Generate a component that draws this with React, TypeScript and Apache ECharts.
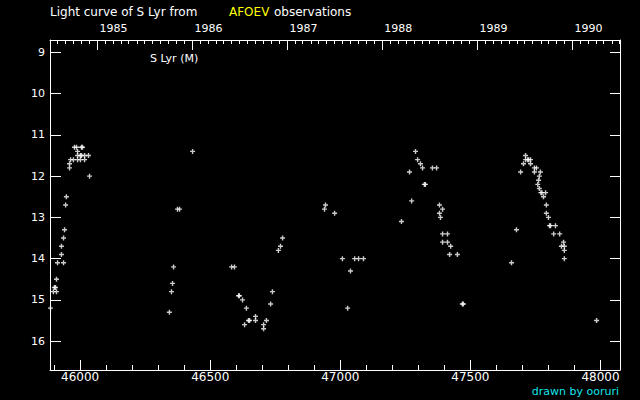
import React, { useEffect, useRef } from "react";
import * as echarts from "echarts";

// Julian Date - 2400000 of each visual observation, and the magnitude
const OBS_JD = [
  45886, 45897, 45909, 45901, 45905, 45909, 45913, 45936, 45928, 45928, 45936, 45940, 45944, 45947,
  45959, 45959, 45963, 45974, 45990, 46001, 46017, 45990, 46001, 46005, 46017, 46032, 45990, 45978,
  45986, 46005, 46009, 46036,
  46343, 46351, 46355, 46359, 46374, 46382, 46432,
  46582, 46593, 46609, 46612, 46624, 46632, 46639, 46647, 46651, 46674, 46674, 46705, 46705, 46716,
  46732, 46739, 46762, 46770, 46778,
  46939, 46943, 46978, 47008, 47028, 47039, 47055, 47070, 47089,
  47235, 47266, 47274, 47289, 47297, 47308, 47316, 47323, 47327, 47354, 47370, 47381, 47393, 47381,
  47385, 47393, 47412, 47393, 47412, 47424, 47420, 47450, 47469, 47473,
  47658, 47677, 47693, 47704, 47712, 47712, 47720, 47724, 47731, 47731, 47746, 47754, 47746, 47769,
  47765, 47762, 47759, 47765, 47771, 47775, 47789, 47781, 47792, 47792, 47800, 47804, 47808, 47827,
  47820, 47843, 47858, 47850, 47861, 47861, 47861, 47985,
];
const OBS_MAG = [
  15.2, 14.8, 14.8, 14.7, 14.7, 14.5, 14.1, 14.1, 13.9, 13.7, 13.5, 13.3, 12.7, 12.5,
  11.8, 11.7, 11.6, 11.6, 11.6, 11.6, 11.6, 11.5, 11.5, 11.5, 11.5, 11.5, 11.4, 11.3,
  11.3, 11.3, 11.3, 12.0,
  15.3, 14.8, 14.6, 14.2, 12.8, 12.8, 11.4,
  14.2, 14.2, 14.9, 14.9, 15.0, 15.6, 15.2, 15.5, 15.5, 15.4, 15.5, 15.6, 15.7, 15.5,
  15.1, 14.8, 13.8, 13.7, 13.5,
  12.8, 12.7, 12.9, 14.0, 15.2, 14.3, 14.0, 14.0, 14.0,
  13.1, 11.9, 12.6, 11.4, 11.6, 11.7, 11.8, 12.2, 12.2, 11.8, 11.8, 12.7, 12.8, 12.9,
  13.0, 13.4, 13.4, 13.6, 13.6, 13.7, 13.9, 13.9, 15.1, 15.1,
  14.1, 13.3, 11.9, 11.7, 11.5, 11.6, 11.6, 11.6, 11.6, 11.7, 11.8, 11.8, 11.9, 11.9,
  12.0, 12.1, 12.2, 12.3, 12.4, 12.4, 12.4, 12.5, 12.7, 12.9, 13.0, 13.2, 13.2, 13.2,
  13.4, 13.4, 13.6, 13.7, 13.7, 13.8, 14.0, 15.5,
];

const JD_LABEL_TICKS = [46000, 46500, 47000, 47500, 48000];
const MAG_TICKS = [9, 10, 11, 12, 13, 14, 15, 16];
const YEARS = [1985, 1986, 1987, 1988, 1989, 1990];

const X_MIN = 45884;
const X_MAX = 48075;
const Y_MIN = 8.7;
const Y_MAX = 16.7;

const jdOf = (y: number, m: number) => Date.UTC(y, m, 1) / 86400000 + 40587.5;

const minorJD: number[] = [];
for (let v = 45900; v <= 48000; v += 100) minorJD.push(v);
const yearJD = YEARS.map((y) => jdOf(y, 0));
const monthJD: number[] = [];
for (let y = 1984; y <= 1990; y++) {
  for (let m = 0; m < 12; m++) {
    const j = jdOf(y, m);
    if (j > X_MIN && j < X_MAX) monthJD.push(j);
  }
}

const FONT = "DejaVu Sans";
const WHITE = "#ffffff";

export default function App() {
  const ref = useRef<HTMLDivElement>(null);
  useEffect(() => {
    if (!ref.current) return;
    const chart = echarts.init(ref.current, null, { renderer: "svg" });
    const line = { show: true, onZero: false, lineStyle: { color: WHITE, width: 1 } };
    const baseX = { type: "value", min: X_MIN, max: X_MAX, gridIndex: 0, splitLine: { show: false } };
    const baseY = { type: "value", min: Y_MIN, max: Y_MAX, inverse: true, splitLine: { show: false } };
    chart.setOption({
      animation: false,
      backgroundColor: "#000000",
      grid: { left: 50, top: 40, width: 570, height: 330, containLabel: false },
      xAxis: [
        {
          ...baseX,
          position: "bottom",
          axisLine: line,
          axisTick: { show: true, inside: true, length: 10, customValues: JD_LABEL_TICKS, lineStyle: { color: WHITE } },
          axisLabel: {
            show: true,
            customValues: JD_LABEL_TICKS,
            color: WHITE,
            fontFamily: FONT,
            fontSize: 12,
            margin: 1,
            formatter: (v: number) => String(Math.round(v)),
          },
        },
        {
          ...baseX,
          position: "bottom",
          axisLine: { show: false },
          axisTick: { show: true, inside: true, length: 5, customValues: minorJD, lineStyle: { color: WHITE } },
          axisLabel: { show: false },
        },
        {
          ...baseX,
          position: "top",
          axisLine: line,
          axisTick: { show: true, inside: true, length: 10, customValues: yearJD, lineStyle: { color: WHITE } },
          axisLabel: {
            show: true,
            customValues: yearJD,
            align: "left",
            color: WHITE,
            fontFamily: FONT,
            fontSize: 11,
            margin: 6,
            padding: [0, 0, 0, 2],
            formatter: (v: number) => {
              const i = yearJD.findIndex((j) => Math.abs(j - v) < 0.6);
              return i >= 0 ? String(YEARS[i]) : "";
            },
          },
        },
        {
          ...baseX,
          position: "top",
          axisLine: { show: false },
          axisTick: { show: true, inside: true, length: 4, customValues: monthJD, lineStyle: { color: WHITE } },
          axisLabel: { show: false },
        },
      ],
      yAxis: [
        {
          ...baseY,
          position: "left",
          axisLine: line,
          axisTick: { show: true, inside: true, length: 11, customValues: MAG_TICKS, lineStyle: { color: WHITE } },
          axisLabel: {
            show: true,
            customValues: MAG_TICKS,
            color: WHITE,
            fontFamily: FONT,
            fontSize: 11,
            margin: 5,
          },
        },
        {
          ...baseY,
          position: "right",
          axisLine: line,
          axisTick: { show: true, inside: true, length: 10, customValues: MAG_TICKS, lineStyle: { color: WHITE } },
          axisLabel: { show: false },
        },
      ],
      graphic: [
        {
          type: "text",
          left: 50,
          top: 6,
          style: { text: "Light curve of S Lyr from", fill: WHITE, font: `12px "${FONT}"` },
        },
        {
          type: "text",
          left: 229,
          top: 6,
          style: { text: "AFOEV", fill: "#ffff00", font: `12px "${FONT}"` },
        },
        {
          type: "text",
          left: 274,
          top: 6,
          style: { text: "observations", fill: WHITE, font: `12px "${FONT}"` },
        },
        {
          type: "text",
          left: 150,
          top: 53,
          style: { text: "S Lyr (M)", fill: WHITE, font: `11px "${FONT}"` },
        },
        {
          type: "text",
          right: 21,
          top: 386,
          style: { text: "drawn by ooruri", fill: "#10e4ec", font: `11px "${FONT}"` },
        },
      ],
      series: [
        {
          type: "scatter",
          xAxisIndex: 0,
          yAxisIndex: 0,
          symbol: "path://M1.8,0h1.4v1.8h1.8v1.4h-1.8v1.8h-1.4v-1.8h-1.8v-1.4h1.8z",
          symbolSize: [5, 5],
          itemStyle: { color: WHITE },
          data: OBS_JD.map((j, i) => [j, OBS_MAG[i]]),
        },
      ],
    });
    return () => chart.dispose();
  }, []);
  return (
    <div
      ref={ref}
      style={{ position: "fixed", left: 0, top: 0, width: 640, height: 400, background: "#000" }}
    />
  );
}
